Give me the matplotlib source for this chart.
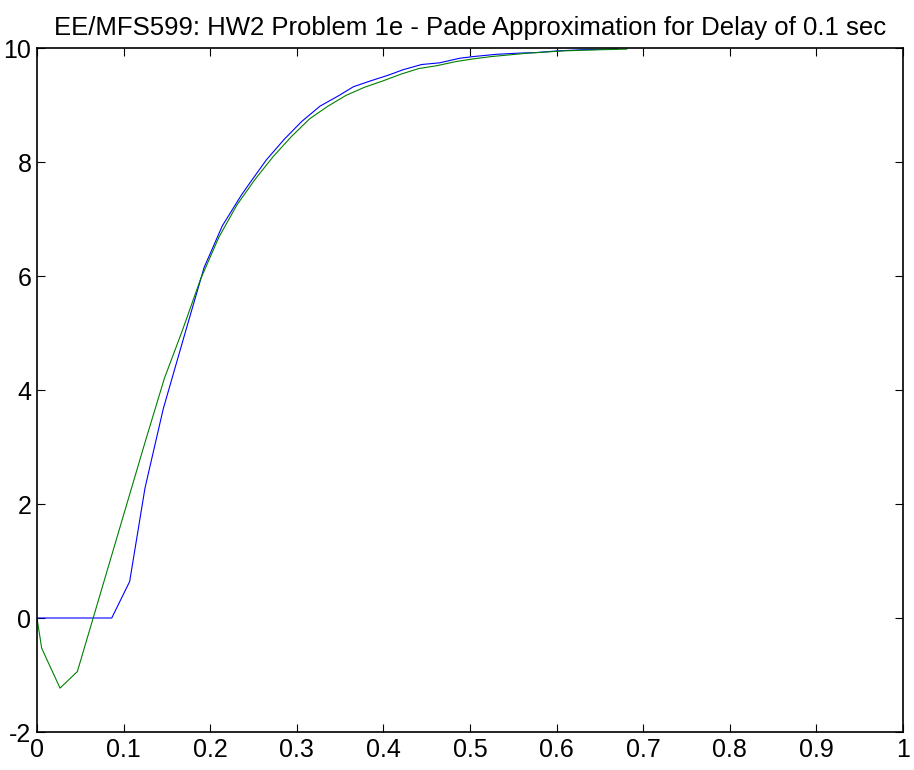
import matplotlib
matplotlib.use('Agg')
import matplotlib.pyplot as plt

plt.rcParams['font.family'] = ['Liberation Sans', 'DejaVu Sans']
plt.rcParams['axes.unicode_minus'] = False

# exact delay (blue)
t_delay = [0, 0.0214, 0.0428, 0.0642, 0.0863, 0.107, 0.1247, 0.1458, 0.171, 0.193,
           0.214, 0.236, 0.248, 0.265, 0.2856, 0.3056, 0.3268, 0.348, 0.3653, 0.3845,
           0.405, 0.423, 0.444, 0.465, 0.488, 0.504, 0.531, 0.557, 0.577, 0.602,
           0.63, 0.67]
y_delay = [0, 0, 0, 0, 0, 0.64, 2.28, 3.67, 5.0, 6.15,
           6.88, 7.42, 7.68, 8.04, 8.4, 8.71, 8.98, 9.16, 9.32, 9.42,
           9.52, 9.62, 9.71, 9.74, 9.82, 9.85, 9.89, 9.91, 9.92, 9.95,
           9.97, 9.98]

# pade approximation (green)
t_pade = [0, 0.0054, 0.0266, 0.0466, 0.1255, 0.147, 0.168, 0.189, 0.210, 0.231,
          0.252, 0.273, 0.294, 0.315, 0.336, 0.357, 0.378, 0.399, 0.420, 0.441,
          0.462, 0.483, 0.504, 0.525, 0.546, 0.567, 0.588, 0.609, 0.630, 0.651,
          0.681]
y_pade = [0, -0.53, -1.23, -0.94, 3.12, 4.2, 5.05, 5.95, 6.68, 7.25,
          7.7, 8.1, 8.45, 8.76, 8.98, 9.17, 9.31, 9.42, 9.54, 9.64,
          9.69, 9.76, 9.81, 9.85, 9.88, 9.91, 9.93, 9.95, 9.96, 9.97,
          9.98]

x_ticks = [0, 0.1, 0.2, 0.3, 0.4, 0.5, 0.6, 0.7, 0.8, 0.9, 1]
x_labels = ['0', '0.1', '0.2', '0.3', '0.4', '0.5', '0.6', '0.7', '0.8', '0.9', '1']
y_ticks = [-2, 0, 2, 4, 6, 8, 10]

fig = plt.figure(figsize=(9.14, 7.70), dpi=100)
ax = fig.add_axes([37 / 914, 38 / 770, 866 / 914, 684 / 770])

ax.plot(t_delay, y_delay, color=(0, 0, 1), lw=0.8)
ax.plot(t_pade, y_pade, color=(0, 0.5, 0), lw=0.8)

ax.set_xlim(0, 1)
ax.set_ylim(-2, 10)
ax.set_xticks(x_ticks)
ax.set_xticklabels(x_labels)
ax.set_yticks(y_ticks)
ax.tick_params(direction='in', length=6, width=0.8, labelsize=18,
               top=True, right=True, pad=4)
for s in ax.spines.values():
    s.set_linewidth(1.2)

ax.set_title('EE/MFS599: HW2 Problem 1e - Pade Approximation for Delay of 0.1 sec',
             fontsize=18.5, pad=9)

fig.savefig('out.png', dpi=100)
